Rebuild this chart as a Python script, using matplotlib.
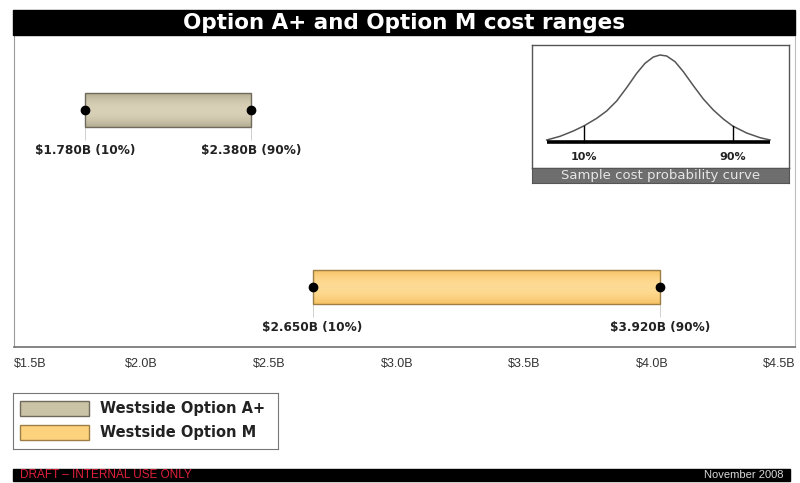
import numpy as np
import matplotlib.pyplot as plt
from matplotlib.colors import to_rgb
from matplotlib.patches import Rectangle

plt.rcParams["font.family"] = ["Liberation Sans", "DejaVu Sans"]
BOLD_FONT = ["DejaVu Sans"]

# Cost ranges as drawn on the chart (in $B) and their printed labels.
OPTIONS = ["Westside Option A+", "Westside Option M"]
ROWS = [1, 0]
RANGE_LOW = [1.78, 2.67]
RANGE_HIGH = [2.43, 4.03]
LOW_LABELS = ["$1.780B (10%)", "$2.650B (10%)"]
HIGH_LABELS = ["$2.380B (90%)", "$3.920B (90%)"]
FILL_COLORS = ["#cbc3a6", "#fdd27c"]
SHADE_COLORS = ["#b5ad92", "#f7c263"]
LIGHT_COLORS = ["#d8d1b8", "#fedb94"]
EDGE_COLORS = ["#6f6a5c", "#9c7d45"]

X_TICKS = [1.5, 2.0, 2.5, 3.0, 3.5, 4.0, 4.5]
X_TICK_LABELS = ["$1.5B", "$2.0B", "$2.5B", "$3.0B", "$3.5B", "$4.0B", "$4.5B"]

# Sample probability curve.
CURVE_X = [20, 60, 100, 133, 170, 200, 230, 260, 290, 315, 340, 360,
           380, 405, 430, 460, 490, 520, 550, 578, 620, 660, 690]
CURVE_Y = [285, 274, 258, 242, 220, 198, 168, 128, 85, 55, 36, 30,
           33, 50, 80, 122, 162, 195, 222, 243, 264, 278, 285]
PERCENTILE_X = [133, 578]
PERCENTILE_TOP = [242, 243]
PERCENTILE_LABELS = ["10%", "90%"]

W, H = 800, 483


def fig_box(x0, y0, x1, y1):
    # pixel box (top-left origin) -> figure fraction rect
    return [x0 / W, 1 - y1 / H, (x1 - x0) / W, (y1 - y0) / H]


def bar_gradient(dark, light, steps=40):
    # vertical shading: darker at the bar edges, lighter in the middle
    t = 1 - np.linspace(-1, 1, steps) ** 2
    dark = np.array(to_rgb(dark))
    light = np.array(to_rgb(light))
    column = dark[None, :] * (1 - t[:, None]) + light[None, :] * t[:, None]
    return column[:, None, :]


figure = plt.figure(figsize=(8, 4.83), dpi=100)
figure.patch.set_facecolor("white")

# Title bar
title_box = fig_box(13, 10, 795, 35)
figure.add_artist(Rectangle(title_box[:2], title_box[2], title_box[3],
                            transform=figure.transFigure, color="black"))
figure.text((13 + 795) / 2 / W, 1 - 23 / H, "Option A+ and Option M cost ranges",
            color="white", fontsize=15.5, fontweight="bold", family=BOLD_FONT,
            ha="center", va="center")

# Main chart
axis = figure.add_axes(fig_box(14, 35, 795, 347))
axis.spines["top"].set_visible(False)
axis.spines["left"].set_color("#9a9a9a")
axis.spines["right"].set_color("#bdbdbd")
axis.spines["bottom"].set_color("#707070")
axis.spines["bottom"].set_linewidth(1.2)

bar_height = 0.19
for row, low, high, low_text, high_text, shade, light, edge in zip(
    ROWS, RANGE_LOW, RANGE_HIGH, LOW_LABELS, HIGH_LABELS,
    SHADE_COLORS, LIGHT_COLORS, EDGE_COLORS
):
    axis.imshow(bar_gradient(shade, light), aspect="auto", interpolation="bilinear",
                extent=(low, high, row - bar_height / 2, row + bar_height / 2), zorder=2)
    axis.barh(row, high - low, left=low, height=bar_height,
              color="none", edgecolor=edge, linewidth=1.0, zorder=2.5)
    axis.vlines([low, high], row - 0.17, row, color="#c8c8c8", linewidth=0.6, zorder=1)
    axis.plot([low, high], [row, row], "o", color="black", markersize=6, zorder=3)
    for value, text in [(low, low_text), (high, high_text)]:
        axis.annotate(text, (value, row), xytext=(0, -29), textcoords="offset points",
                      ha="center", va="center", fontsize=8.7, fontweight="bold",
                      family=BOLD_FONT, color="#222222")

axis.set_xlim(1.5, 4.56)
axis.set_ylim(-0.339, 1.424)
axis.set_yticks([])
axis.set_xticks(X_TICKS)
axis.set_xticklabels(X_TICK_LABELS, fontsize=9, color="#333333")
axis.tick_params(axis="x", length=0, pad=8)
axis.get_xticklabels()[0].set_horizontalalignment("left")

# Inset: sample cost probability curve
inset = figure.add_axes(fig_box(532, 45, 789, 168))
inset.set_xlim(-24, 747)
inset.set_ylim(369, 0)
inset.set_xticks([])
inset.set_yticks([])
for spine in inset.spines.values():
    spine.set_color("#555555")
    spine.set_linewidth(1.0)
inset.plot(CURVE_X, CURVE_Y, color="#555555", linewidth=1.1)
inset.plot([CURVE_X[0], CURVE_X[-1]], [292, 292], color="black", linewidth=2.6,
           solid_capstyle="butt")
for px, top, text in zip(PERCENTILE_X, PERCENTILE_TOP, PERCENTILE_LABELS):
    inset.plot([px, px], [top, 292], color="black", linewidth=1.0)
    inset.text(px, 336, text, ha="center", va="center", fontsize=8,
               fontweight="bold", family=BOLD_FONT, color="#222222")

caption = figure.add_axes(fig_box(532, 168, 789, 183))
caption.set_facecolor("#6e6e6e")
caption.set_xticks([])
caption.set_yticks([])
for spine in caption.spines.values():
    spine.set_color("#555555")
caption.text(0.5, 0.5, "Sample cost probability curve", transform=caption.transAxes,
             ha="center", va="center", fontsize=9.5, family=BOLD_FONT, color="#e6e6e6")

# Legend
legend_axis = figure.add_axes(fig_box(13, 393, 278, 449))
legend_axis.set_xlim(0, 265)
legend_axis.set_ylim(56, 0)
legend_axis.set_xticks([])
legend_axis.set_yticks([])
for spine in legend_axis.spines.values():
    spine.set_color("#777777")
for index, (name, fill, edge) in enumerate(zip(OPTIONS, FILL_COLORS, EDGE_COLORS)):
    top = 8 + index * 24
    legend_axis.add_patch(Rectangle((7, top), 69, 15, facecolor=fill,
                                    edgecolor=edge, linewidth=1.0))
    legend_axis.text(87, top + 7.5, name, ha="left", va="center",
                     fontsize=10.5, fontweight="bold", family=BOLD_FONT, color="#222222")

# Footer bar
footer_box = fig_box(13, 469, 790, 481)
figure.add_artist(Rectangle(footer_box[:2], footer_box[2], footer_box[3],
                            transform=figure.transFigure, color="black"))
figure.text(20 / W, 1 - 475 / H, "DRAFT \u2013 INTERNAL USE ONLY", color="#e0203a",
            fontsize=8.5, ha="left", va="center")
figure.text(784 / W, 1 - 475 / H, "November 2008", color="#d8d8d8",
            fontsize=8, ha="right", va="center")

figure.savefig("out.png", dpi=100)
plt.close(figure)
